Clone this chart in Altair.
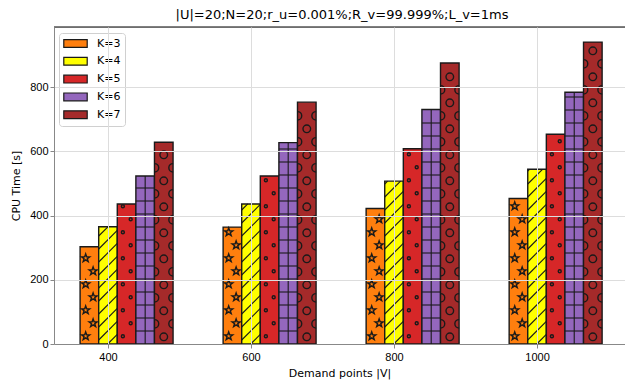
import altair as alt
import pandas as pd
import numpy as np

# ---------------- data ----------------
V = [400, 600, 800, 1000]
K_LABELS = ["K=3", "K=4", "K=5", "K=6", "K=7"]
K3 = [303, 364, 422, 453]
K4 = [365, 436, 507, 544]
K5 = [436, 523, 608, 653]
K6 = [523, 627, 730, 784]
K7 = [628, 753, 875, 940]
SERIES = [K3, K4, K5, K6, K7]
COLORS = ["#ff7f0e", "#ffff00", "#d62728", "#9467bd", "#a52a2a"]
TITLE = "|U|=20;N=20;r_u=0.001%;R_v=99.999%;L_v=1ms"
X_TICKS = [400, 600, 800, 1000]
Y_TICKS = [0, 200, 400, 600, 800]

# ---------------- layout ----------------
BAR_W = 26
X_DOM = [324.5, 1123]
Y_DOM = [0, 987]
W, H = 571, 317
PL, PT, PB = 54, 27, 39
KX = W / (X_DOM[1] - X_DOM[0])
KY = H / (Y_DOM[1] - Y_DOM[0])
P = 13.0  # hatch period in px
FONT = "DejaVu Sans"
EDGE = "#1a1a1a"

# ---------------- bars ----------------
bars = []
for i, (lab, vals) in enumerate(zip(K_LABELS, SERIES)):
    for v, val in zip(V, vals):
        left = v + (i - 1) * BAR_W - BAR_W / 2
        bars.append(dict(K=lab, ki=i, x=left, x2=left + BAR_W, y=0, y2=val))
bars_df = pd.DataFrame(bars)

# ---------------- hatch decorations (derived from bar values) ----------------
STAR = "M0,-1L0.235,-0.324L0.951,-0.309L0.38,0.124L0.588,0.809L0,0.4L-0.588,0.809L-0.38,0.124L-0.951,-0.309L-0.235,-0.324Z"
HALF_R = "M0,-1A1,1 0 0 1 0,1"
HALF_L = "M0,-1A1,1 0 0 0 0,1"

pts, segs = [], []
for b in bars:
    wpx = (b["x2"] - b["x"]) * KX
    hpx = b["y2"] * KY
    def to_x(u, b=b):
        return b["x"] + u / KX
    def to_y(v):
        return v / KY
    ki = b["ki"]
    if ki == 0:  # stars
        r = 3.8
        j = 0
        while (j + 0.6) * P + r <= hpx:
            cy = (j + 0.6) * P
            fx = 0.3 if j % 2 == 0 else 0.7
            pts.append(dict(x=to_x(fx * wpx), y=to_y(cy), shape=STAR, size=72, kind="star"))
            j += 1
    elif ki == 1:  # diagonal lines
        k0 = -int(np.ceil(wpx / P)) - 1
        k1 = int(np.ceil(hpx / P)) + 1
        for k in range(k0, k1):
            c = k * P + 4
            u0 = max(0.0, -c)
            u1 = min(wpx, hpx - c)
            if u1 - u0 > 0.5:
                segs.append(dict(x=to_x(u0), y=to_y(u0 + c), x2=to_x(u1), y2=to_y(u1 + c), kind="diag"))
    elif ki == 2:  # small dots
        j = 0
        while (j + 0.6) * P + 2 <= hpx:
            cy = (j + 0.6) * P
            fx = 0.3 if j % 2 == 0 else 0.72
            pts.append(dict(x=to_x(fx * wpx), y=to_y(cy), shape="circle", size=9, kind="dot"))
            j += 1
    elif ki == 3:  # grid
        j = 1
        while j * P < hpx - 1.5:
            segs.append(dict(x=b["x"], y=to_y(j * P), x2=b["x2"], y2=to_y(j * P), kind="grid"))
            j += 1
        segs.append(dict(x=to_x(0.5 * wpx), y=0, x2=to_x(0.5 * wpx), y2=b["y2"], kind="grid"))
    elif ki == 4:  # big circles
        j = 0
        while (j + 0.55) * P + 4 <= hpx:
            cy = (j + 0.55) * P
            if j % 2 == 0:
                pts.append(dict(x=to_x(0.5 * wpx), y=to_y(cy), shape="circle", size=58, kind="circ"))
            else:
                pts.append(dict(x=to_x(0.0), y=to_y(cy), shape=HALF_R, size=72, kind="circ"))
                pts.append(dict(x=to_x(wpx), y=to_y(cy), shape=HALF_L, size=72, kind="circ"))
            j += 1
pts_df = pd.DataFrame(pts)
segs_df = pd.DataFrame(segs)

# ---------------- encodings ----------------
x_scale = alt.Scale(domain=X_DOM, nice=False, zero=False)
y_scale = alt.Scale(domain=Y_DOM, nice=False, zero=False)
x_axis = alt.Axis(values=X_TICKS, title="Demand points |V|", grid=True, zindex=1,
                  labelFontSize=11, titleFontSize=11, tickSize=4, labelPadding=3,
                  titlePadding=5, format="d", titleFontWeight="normal", titleFont=FONT)
y_axis = alt.Axis(values=Y_TICKS, title="CPU Time [s]", grid=True, zindex=1,
                  labelFontSize=11, titleFontSize=11, tickSize=4, labelPadding=2,
                  titlePadding=8, format="d", titleFontWeight="normal", titleFont=FONT)

def X(f="x"):
    return alt.X(f"{f}:Q", scale=x_scale, axis=x_axis)

def Y(f="y"):
    return alt.Y(f"{f}:Q", scale=y_scale, axis=y_axis)

RECT_SYM = "M-2,-0.667H2V0.667H-2Z"

rects = alt.Chart(bars_df).mark_rect(stroke=EDGE, strokeWidth=1.4).encode(
    x=X(), x2="x2:Q", y=Y(), y2="y2:Q",
    color=alt.Color("K:N", scale=alt.Scale(domain=K_LABELS, range=COLORS),
                    legend=alt.Legend(title=None, orient="none", legendX=5, legendY=6,
                                      symbolType=RECT_SYM, symbolSize=137,
                                      symbolStrokeColor=EDGE, symbolStrokeWidth=1.2,
                                      symbolOpacity=1,
                                      symbolOffset=6, labelOffset=15,
                                      labelFont=FONT, labelFontSize=11, labelColor="black",
                                      rowPadding=4.8, padding=4,
                                      fillColor="rgba(255,255,255,0.85)",
                                      strokeColor="#d0d0d0", cornerRadius=3)),
)

hatch_pts = alt.Chart(pts_df).mark_point(filled=False, stroke=EDGE, strokeWidth=1.4, opacity=1).encode(
    x=X(), y=Y(),
    shape=alt.Shape("shape:N", scale=None),
    size=alt.Size("size:Q", scale=None),
)

hatch_segs = alt.Chart(segs_df).mark_rule(stroke=EDGE, strokeWidth=1.1).encode(
    x=X(), x2="x2:Q", y=Y(), y2="y2:Q",
)

top_border = alt.Chart(pd.DataFrame({"y": [Y_DOM[1]]})).mark_rule(color="black", strokeWidth=1).encode(
    y=Y(),
)

chart = alt.layer(rects, hatch_pts, hatch_segs, top_border).properties(
    width=W, height=H,
    title=alt.TitleParams(TITLE, fontSize=13, font=FONT, fontWeight="normal", color="black",
                          offset=5, dx=2.5, anchor="middle"),
    autosize=alt.AutoSizeParams(type="none"),
    padding={"left": PL, "top": PT, "right": 0, "bottom": PB},
).configure_view(stroke=None).configure_axis(
    labelFont=FONT, titleFont=FONT, labelColor="black", titleColor="black",
    domainColor="black", tickColor="black", domainWidth=1, tickWidth=1,
    gridColor="#b8b8b8", gridWidth=1, gridOpacity=0.8, titleFontWeight="normal",
).configure(background="white")

chart.save("out.html", embed_options={"renderer": "svg", "actions": False})
